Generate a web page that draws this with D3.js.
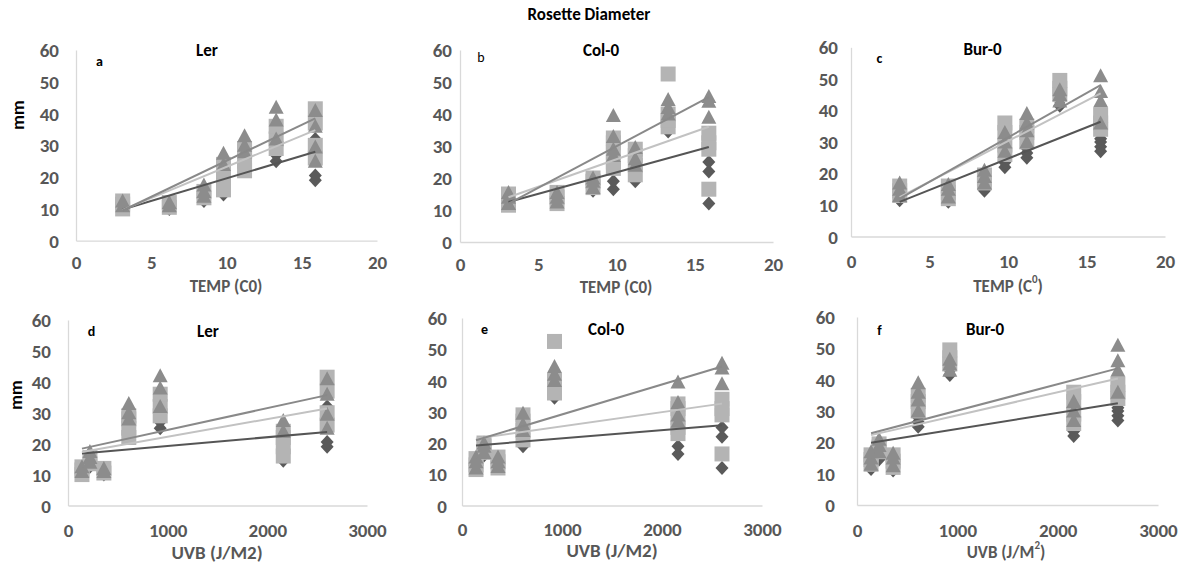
<!DOCTYPE html>
<html>
<head>
<meta charset="utf-8">
<script src="https://cdn.jsdelivr.net/npm/d3@7"></script>
<style>
body { margin: 0; background: #fff; }
text { font-family: Carlito, Lato, "Open Sans", sans-serif; }
</style>
</head>
<body>
<svg id="chart" width="1187" height="572"></svg>
<script>
//sites: the same 7 sites, one temperature and one UVB dose each
var tempSites = [3.1, 6.2, 8.5, 9.8, 11.2, 13.3, 15.9];
var uvbSites = [140, 360, 220, 2160, 610, 925, 2600];

var tempTicks = [0, 5, 10, 15, 20];
var uvbTicks = [0, 1000, 2000, 3000];
var mmTicks = [0, 10, 20, 30, 40, 50, 60];

//replicate diameters (mm) per site, three series per accession
var lerDiamond = [[10, 11, 12], [10, 11], [12.5, 14, 16], [14.5, 17, 20], [22, 24, 26], [25, 27, 30], [19, 20.5, 32]];
var lerSquare = [[10, 11.5, 12.5], [10.5, 12], [13.5, 15.5], [16, 19, 22, 24], [22, 25, 28, 29], [29, 32, 36], [26, 30, 37, 41.5]];
var lerTriangle = [[11, 12.5], [11, 12], [14, 15.5, 17.5], [24, 27.5], [28, 30, 33], [32, 38, 42], [25, 29.5, 36, 41]];

var colDiamond = [[12, 13], [13, 15], [16, 18, 20], [16.5, 19], [19, 21, 23], [34.5, 36], [12, 22, 25]];
var colSquare = [[11.5, 13, 15], [12, 14, 15.5], [17, 19, 20], [23, 25, 28, 31, 32.5], [21, 24, 27, 29], [36, 38, 40, 52.5], [16.5, 29, 31, 34]];
var colTriangle = [[12, 14, 15.5], [12.5, 14, 15.5], [17, 19, 20], [27, 29, 33, 39.5], [24, 26, 29.5], [40, 42, 44.5], [39, 44, 45.5]];

var burDiamond = [[11.5, 13, 15], [11, 12], [14.5, 16, 18], [22, 23.5, 25], [25, 26.5, 28], [41.5, 43, 44], [27, 28.5, 30, 31]];
var burSquare = [[13, 14.5, 16], [12, 14, 16], [17, 18.5, 19.5], [26, 29, 33, 36], [30, 33, 35], [45, 47, 49.5], [34, 36, 38.5]];
var burTriangle = [[13, 15, 17], [12.5, 15, 16.5], [17, 19, 21], [27, 30, 33], [30, 33.5, 36, 39], [43, 45, 46.5], [36, 43, 46, 51]];

//linear trendlines: value at first site, value at last site [diamond, square, triangle]
var lerTempFit = [[9.8, 28.0], [9.7, 34.8], [9.5, 38.5]];
var colTempFit = [[12.5, 29.7], [14.0, 36.0], [12.0, 45.3]];
var burTempFit = [[11.0, 36.4], [12.5, 45.4], [12.0, 48.0]];
var lerUvbFit = [[16.8, 23.8], [17.3, 31.4], [18.4, 35.7]];
var colUvbFit = [[19.2, 25.7], [21.4, 32.6], [20.9, 44.5]];
var burUvbFit = [[19.9, 32.5], [22.3, 40.4], [22.9, 43.6]];

//namespace for styles
var st = {
	'marker': ['#5a5a5a', '#b4b4b4', '#8c8c8c'],
	'line': ['#555555', '#c2c2c2', '#898989'],
	'shape': ['diamond', 'square', 'triangle'],
	'axis': '#d9d9d9',
	'label': '#575757'
};

//panel placement
var panels = [
	{series: [lerDiamond, lerSquare, lerTriangle], fit: lerTempFit, name: 'Ler', kind: 'temp', letter: 'a', bold: true,
		x0: 76, x1: 377, y60: 50, y0: 240.7, gap: 17, tickY: 263, titleX: 226, titleY: 286, titleSize: 17,
		letX: 99.5, letY: 61.5, subX: 207, subY: 50, mm: [18, 115]},
	{series: [colDiamond, colSquare, colTriangle], fit: colTempFit, name: 'Col-0', kind: 'temp', letter: 'b', bold: false,
		x0: 460, x1: 773, y60: 50, y0: 242, gap: 8, tickY: 264, titleX: 616, titleY: 287, titleSize: 17,
		letX: 481, letY: 57, subX: 601, subY: 50},
	{series: [burDiamond, burSquare, burTriangle], fit: burTempFit, name: 'Bur-0', kind: 'temp', letter: 'c', bold: true, sup: true,
		x0: 851, x1: 1165, y60: 47.3, y0: 236.5, gap: 13, tickY: 261, titleX: 1008, titleY: 286, titleSize: 17,
		letX: 879.5, letY: 58.5, subX: 982.5, subY: 49},
	{series: [lerDiamond, lerSquare, lerTriangle], fit: lerUvbFit, name: 'Ler', kind: 'uvb', letter: 'd', bold: true,
		x0: 68, x1: 367, y60: 320, y0: 505.5, gap: 17, tickY: 530, titleX: 217, titleY: 552, titleSize: 19,
		letX: 91.5, letY: 331, subX: 208, subY: 331, mm: [16, 395]},
	{series: [colDiamond, colSquare, colTriangle], fit: colUvbFit, name: 'Col-0', kind: 'uvb', letter: 'e', bold: true,
		x0: 462, x1: 762, y60: 318, y0: 505.5, gap: 15, tickY: 529, titleX: 612, titleY: 550, titleSize: 19,
		letX: 484.5, letY: 329, subX: 606, subY: 329},
	{series: [burDiamond, burSquare, burTriangle], fit: burUvbFit, name: 'Bur-0', kind: 'uvb', letter: 'f', bold: true, sup: true,
		x0: 857, x1: 1158, y60: 317, y0: 505, gap: 22, tickY: 530, titleX: 1006, titleY: 552, titleSize: 17,
		letX: 879.5, letY: 330, subX: 985, subY: 329}
];

var svg = d3.select('#chart');

//main title
svg.append('text')
	.attr('x', 589)
	.attr('y', 14)
	.attr('text-anchor', 'middle')
	.attr('dominant-baseline', 'central')
	.style('font-size', '17px')
	.style('font-weight', 'bold')
	.text('Rosette Diameter');

panels.forEach(drawPanel);

//marker path, centered on 0,0
function markerPath(shape) {
	if (shape === 'square') return 'M-7.5,-7.5H7.5V7.5H-7.5Z';
	if (shape === 'triangle') return 'M0,-7.5L7.5,6.5L-7.5,6.5Z';
	return 'M0,-7L6.5,0L0,7L-6.5,0Z';
}

function drawPanel(p) {
	var sites = p.kind === 'temp' ? tempSites : uvbSites;

	var x = d3.scaleLinear()
		.domain(p.kind === 'temp' ? [0, 20] : [0, 3000])
		.range([p.x0, p.x1]);
	var y = d3.scaleLinear()
		.domain([0, 60])
		.range([p.y0, p.y60]);

	var g = svg.append('g');

	//y axis
	var yAxis = g.append('g')
		.attr('transform', 'translate(' + p.x0 + ',0)')
		.call(d3.axisLeft(y).tickValues(mmTicks).tickSize(0).tickPadding(p.gap));
	//x axis
	var xAxis = g.append('g')
		.attr('transform', 'translate(0,' + p.y0 + ')')
		.call(d3.axisBottom(x).tickValues(p.kind === 'temp' ? tempTicks : uvbTicks)
			.tickFormat(d3.format('d')).tickSize(0));

	[yAxis, xAxis].forEach(function(a) {
		a.attr('font-family', null).attr('font-size', null);
		a.select('.domain').attr('stroke', st.axis).attr('stroke-width', 1.3);
		a.selectAll('text')
			.attr('fill', st.label)
			.style('font-size', '19px')
			.style('font-weight', 'bold');
	});
	yAxis.selectAll('text').attr('dy', null).attr('dominant-baseline', 'central');
	xAxis.selectAll('text').attr('dy', null).attr('y', p.tickY - p.y0).attr('dominant-baseline', 'central');

	//markers: diamonds first, triangles on top
	p.series.forEach(function(ser, k) {
		var pts = [];
		ser.forEach(function(vals, i) {
			vals.forEach(function(v) { pts.push({x: sites[i], y: v}); });
		});
		g.append('g').selectAll('path')
			.data(pts)
			.enter().append('path')
			.attr('d', markerPath(st.shape[k]))
			.attr('transform', function(d) { return 'translate(' + x(d.x) + ',' + y(d.y) + ')'; })
			.attr('fill', st.marker[k]);
	});

	//trendlines over the markers
	var xMin = d3.min(sites), xMax = d3.max(sites);
	var line = d3.line().x(function(d) { return x(d[0]); }).y(function(d) { return y(d[1]); });
	p.fit.forEach(function(f, k) {
		g.append('path')
			.datum([[xMin, f[0]], [xMax, f[1]]])
			.attr('d', line)
			.attr('fill', 'none')
			.attr('stroke', st.line[k])
			.attr('stroke-width', 2);
	});

	//x title
	var t = g.append('text')
		.attr('x', p.titleX)
		.attr('y', p.titleY)
		.attr('text-anchor', 'middle')
		.attr('dominant-baseline', 'central')
		.attr('fill', st.label)
		.style('font-size', p.titleSize + 'px')
		.style('font-weight', 'bold');
	if (p.kind === 'temp') {
		if (p.sup) {
			t.append('tspan').text('TEMP (C');
			t.append('tspan').attr('baseline-shift', 'super').style('font-size', '11px').text('0');
			t.append('tspan').text(')');
		} else {
			t.text('TEMP (C0)');
		}
	} else {
		if (p.sup) {
			t.append('tspan').text('UVB (J/M');
			t.append('tspan').attr('baseline-shift', 'super').style('font-size', '11px').text('2');
			t.append('tspan').text(')');
		} else {
			t.text('UVB (J/M2)');
		}
	}

	//panel letter and accession name
	g.append('text')
		.attr('x', p.letX)
		.attr('y', p.letY)
		.attr('text-anchor', 'middle')
		.attr('dominant-baseline', 'central')
		.style('font-size', '14px')
		.style('font-weight', p.bold ? 'bold' : 'normal')
		.text(p.letter);
	g.append('text')
		.attr('x', p.subX)
		.attr('y', p.subY)
		.attr('text-anchor', 'middle')
		.attr('dominant-baseline', 'central')
		.style('font-size', '17px')
		.style('font-weight', 'bold')
		.text(p.name);

	//y title only on the left column
	if (p.mm) {
		g.append('text')
			.attr('transform', 'translate(' + p.mm[0] + ',' + p.mm[1] + ') rotate(-90)')
			.attr('text-anchor', 'middle')
			.attr('dominant-baseline', 'central')
			.style('font-size', '18px')
			.style('font-weight', 'bold')
			.text('mm');
	}
}
</script>
</body>
</html>
